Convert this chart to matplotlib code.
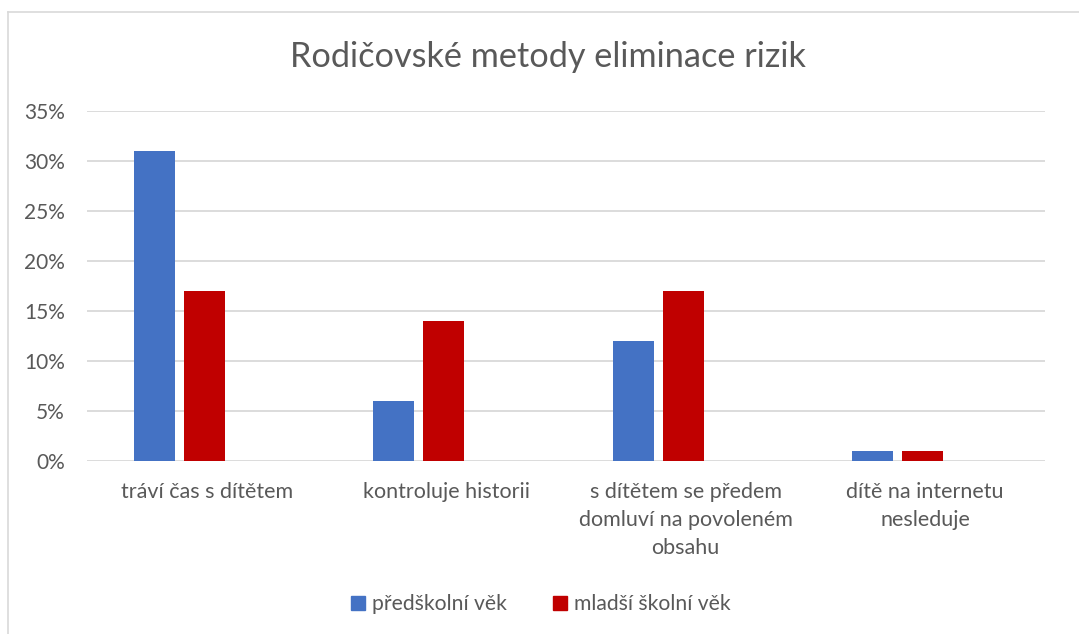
import matplotlib
matplotlib.use("Agg")
import matplotlib.pyplot as plt
from matplotlib.lines import Line2D
from matplotlib.patches import Patch
import numpy as np

categories = ["tráví čas s dítětem", "kontroluje historii",
              "s dítětem se předem\ndomluví na povoleném\nobsahu",
              "dítě na internetu\nnesleduje"]
series_names = ["předškolní věk", "mladší školní věk"]
preschool = [0.31, 0.06, 0.12, 0.01]
young_school = [0.17, 0.14, 0.17, 0.01]
yticks = [0, 0.05, 0.10, 0.15, 0.20, 0.25, 0.30, 0.35]
ytick_labels = ["0%", "5%", "10%", "15%", "20%", "25%", "30%", "35%"]
title = "Rodičovské metody eliminace rizik"

BLUE = "#4472C4"
RED = "#C00000"
TXT = "#595959"
GRID = "#D9D9D9"
FONT = "Lato"

plt.rcParams['font.family'] = [FONT, 'DejaVu Sans']

fig = plt.figure(figsize=(10.79, 6.34), dpi=100)
ax = fig.add_axes([87/1079, (634-461)/634, (1045-87)/1079, (461-111)/634])

x = np.arange(len(categories))
w = 0.171
ax.bar(x - 0.22, preschool, width=w, color=BLUE, zorder=3)
ax.bar(x - 0.01, young_school, width=w, color=RED, zorder=3)

ax.set_xlim(-0.5, len(categories) - 0.5)
ax.set_ylim(0, 0.35)
ax.set_yticks(yticks)
ax.set_yticklabels(ytick_labels, fontsize=15, color=TXT)
ax.set_xticks(x)
ax.set_xticklabels(categories, fontsize=15.5, color=TXT, linespacing=1.5)
ax.tick_params(axis='y', length=0, pad=16)
ax.tick_params(axis='x', length=0, pad=15)
ax.grid(axis='y', color=GRID, linewidth=1.3, zorder=0)
for s in ax.spines.values():
    s.set_visible(False)

fig.text(548/1079, 1 - 57/634, title, ha='center', va='center', fontsize=24.7, color=TXT)

handles = [Patch(color=BLUE), Patch(color=RED)]
fig.legend(handles, series_names, loc='center', bbox_to_anchor=(541/1079, 1 - 604/634),
           ncol=2, frameon=False, fontsize=15.2, handlelength=0.65, handleheight=0.65,
           handletextpad=0.35, columnspacing=2.2, labelcolor=TXT)

fig.add_artist(Line2D([8/1079, 8/1079], [0, 1 - 12/634], transform=fig.transFigure, color=GRID, lw=1.2))
fig.add_artist(Line2D([8/1079, 1], [1 - 12/634, 1 - 12/634], transform=fig.transFigure, color=GRID, lw=1.2))

fig.savefig("out.png", dpi=100)
